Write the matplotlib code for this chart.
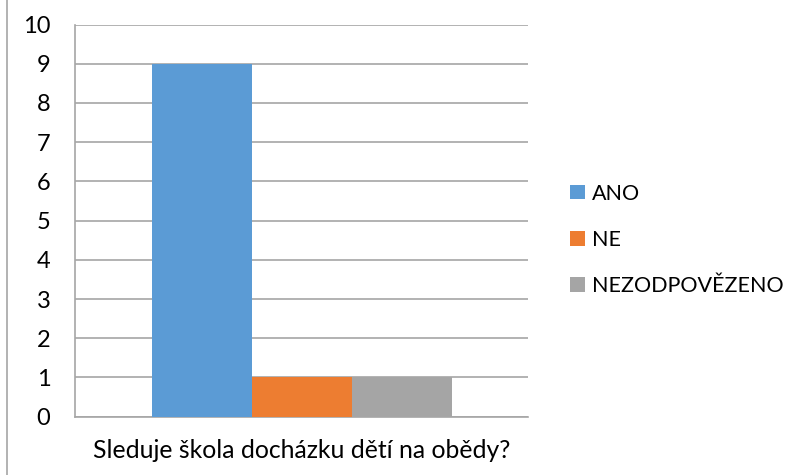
import matplotlib.pyplot as plt
from matplotlib.lines import Line2D
from matplotlib.patches import Patch

plt.rcParams["font.family"] = ["Lato", "DejaVu Sans"]

# ---------------------------------------------------------------------------
# Data
# ---------------------------------------------------------------------------
question = "Sleduje škola docházku dětí na obědy?"
series = ["ANO", "NE", "NEZODPOVĚZENO"]
counts = [9, 1, 1]
colors = ["#5B9BD5", "#ED7D31", "#A5A5A5"]
y_ticks = list(range(0, 11))

GRID = "#A6A6A6"
FS = 17

fig = plt.figure(figsize=(8.08, 4.75), dpi=100)
ax = fig.add_axes([0.0934, 0.1227, 0.5597, 0.8257])

# one category, three series side by side
offsets = [-1, 0, 1]
for off, val, col, name in zip(offsets, counts, colors, series):
    ax.bar(off, val, width=1.0, color=col, label=name, zorder=3)

ax.set_xlim(-2.26, 2.26)
ax.set_ylim(0, 10)
ax.set_yticks(y_ticks)
ax.set_xticks([])
ax.yaxis.grid(True, color=GRID, linewidth=1.2, zorder=0)
ax.tick_params(axis="y", length=0, pad=18, labelsize=FS, colors="#000000")

for side in ("top", "right"):
    ax.spines[side].set_visible(False)
for side in ("left", "bottom"):
    ax.spines[side].set_color(GRID)
    ax.spines[side].set_linewidth(1.2)

ax.set_xlabel(question, fontsize=17.8, labelpad=16)

# legend on the right
handles = [Patch(facecolor=c, edgecolor="none") for c in colors]
fig.legend(
    handles, series,
    loc="center left",
    bbox_to_anchor=(0.706, 0.495),
    frameon=False,
    borderpad=0,
    borderaxespad=0,
    fontsize=15.5,
    handlelength=0.68,
    handleheight=0.68,
    handletextpad=0.3,
    labelspacing=1.22,
)

# chart outer border (left edge only visible)
fig.add_artist(Line2D([6.5 / 808, 6.5 / 808], [0, 1], color=GRID, linewidth=1.2))

fig.savefig("out.png", dpi=100)
